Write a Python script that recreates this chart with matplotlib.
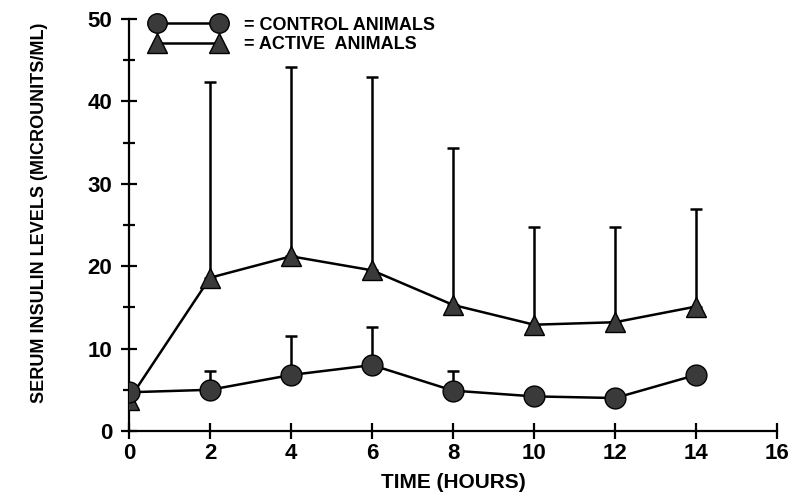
import numpy as np
import matplotlib
matplotlib.use('Agg')
import matplotlib.pyplot as plt
from matplotlib.ticker import MultipleLocator

# time points (hours)
hours = [0, 2, 4, 6, 8, 10, 12, 14]

# control animals: mean and top of error bar
control_mean = [4.7, 5.0, 6.8, 8.0, 4.9, 4.2, 4.0, 6.8]
control_top = [4.7, 7.3, 11.5, 12.6, 7.3, 4.2, 4.0, 6.8]

# active animals: mean and top of error bar
active_mean = [3.8, 18.6, 21.2, 19.5, 15.3, 12.9, 13.2, 15.1]
active_top = [3.8, 42.4, 44.2, 42.9, 34.4, 24.7, 24.8, 27.0]

plt.rcParams['font.family'] = ['Liberation Sans', 'DejaVu Sans']
plt.rcParams['font.weight'] = 'bold'

fig = plt.figure(figsize=(7.98, 4.97), dpi=100)
ax = fig.add_axes([0.1617, 0.1328, 0.812, 0.829])

x = np.array(hours)
cm = np.array(control_mean)
am = np.array(active_mean)
c_err = [np.zeros(len(x)), np.array(control_top) - cm]
a_err = [np.zeros(len(x)), np.array(active_top) - am]

fill = '#3a3a3a'
ax.errorbar(x, am, yerr=a_err, color='black', lw=1.8, elinewidth=1.8,
            capsize=4, capthick=1.8, marker='^', ms=15, mfc=fill, mec='black',
            zorder=3)
ax.errorbar(x, cm, yerr=c_err, color='black', lw=1.8, elinewidth=1.8,
            capsize=4, capthick=1.8, marker='o', ms=15, mfc=fill, mec='black',
            zorder=4)

# legend handles
h1, = ax.plot([], [], color='black', lw=1.8, marker='o', ms=14, mfc=fill, mec='black')
h2, = ax.plot([], [], color='black', lw=1.8, marker='^', ms=14, mfc=fill, mec='black')
leg = ax.legend([h1, h2], ['= CONTROL ANIMALS', '= ACTIVE  ANIMALS'],
                numpoints=2, frameon=False, loc='upper left',
                bbox_to_anchor=(0.01, 1.045), handlelength=4.0,
                handletextpad=1.1, labelspacing=0.12,
                prop={'size': 13, 'weight': 'bold'})

ax.set_xlim(0, 16)
ax.set_ylim(0, 50)
ax.set_xticks(range(0, 17, 2))
ax.set_yticks(range(0, 51, 10))
ax.yaxis.set_minor_locator(MultipleLocator(5))
ax.spines['top'].set_visible(False)
ax.spines['right'].set_visible(False)
for s in ['left', 'bottom']:
    ax.spines[s].set_linewidth(1.6)
    ax.spines[s].set_position(('data', 0))
ax.tick_params(axis='both', which='major', direction='inout', length=12,
               width=1.6, labelsize=16, pad=3)
ax.tick_params(axis='y', which='major', pad=6)
ax.tick_params(axis='y', which='minor', direction='inout', length=8, width=1.6)
for lab in ax.get_xticklabels() + ax.get_yticklabels():
    lab.set_fontweight('bold')

ax.set_xlabel('TIME (HOURS)', fontsize=15, fontweight='bold', labelpad=6)
ax.set_ylabel('SERUM INSULIN LEVELS (MICROUNITS/ML)', fontsize=13,
              fontweight='bold')
ax.yaxis.set_label_coords(-0.125, 0.53)

fig.savefig('out.png', dpi=100)
